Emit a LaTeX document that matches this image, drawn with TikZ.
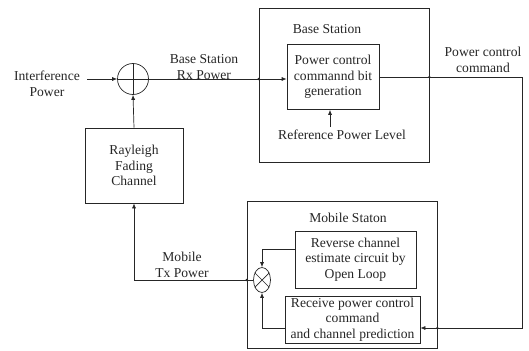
\documentclass[tikz,border=0pt]{standalone}
\usepackage{fontspec}
\setmainfont{Liberation Serif}
\usetikzlibrary{arrows.meta,shapes.geometric,calc}
\begin{document}
\begin{tikzpicture}[x=1pt,y=-1pt,
  every node/.style={font=\fontsize{13.6}{15.5}\selectfont, text=black!85},
  box/.style={draw=black!85, line width=0.7pt, rectangle, inner sep=0pt},
  lbl/.style={align=center, inner sep=0pt},
  wire/.style={draw=black!85, line width=0.7pt},
  arr/.style={wire, -{Latex[length=5pt,width=4pt]}},
  jdot/.style={circle, fill=black!85, inner sep=0pt, minimum size=2.6pt}]
\useasboundingbox (0,0) rectangle (529,350);

% Base station block
\node[box, minimum width=170pt, minimum height=154pt] (bs) at (344,85) {};
\node[lbl] (bslbl) at (327,29) {Base Station};
\node[box, lbl, minimum width=92pt, minimum height=65pt] (pcb) at (333,77)
  {Power control\\commannd bit\\generation};
\node[lbl] (ref) at (342,135) {Reference Power Level};
\coordinate (refin) at (330,127);

% Summing junction and channel
\node[draw=black!85, line width=0.7pt, circle, minimum size=31pt, inner sep=0pt] (sum) at (133,79) {};
\node[lbl] (intf) at (47,84) {Interference\\Power};
\coordinate (intin) at (87,79);
\node[lbl] (rxp) at (204,67) {Base Station\\Rx Power};
\node[box, lbl, minimum width=98pt, minimum height=75pt] (ray) at (134,165.5)
  {Rayleigh\\Fading\\Channel};

% Mobile station block
\node[box, minimum width=190pt, minimum height=147pt] (ms) at (342,274.5) {};
\node[lbl] (mslbl) at (348,218) {Mobile Staton};
\node[box, lbl, minimum width=121pt, minimum height=57pt] (rev) at (355.5,259.5)
  {Reverse channel\\estimate circuit by\\Open Loop};
\node[box, lbl, minimum width=135pt, minimum height=47pt] (rcv) at (352.5,319.5)
  {Receive power control\\command\\and channel prediction};
\node[draw=black!85, line width=0.7pt, ellipse, minimum width=17pt, minimum height=25pt, inner sep=0pt] (mult) at (262,280) {};
\node[lbl] (txp) at (182,265) {Mobile\\Tx Power};

% Feedback path labels
\node[lbl] (pcc) at (483,60) {Power control\\command};
\coordinate (cR) at (522,328);

% Summing junction cross
\draw[wire] (sum.north) -- (sum.south) (sum.west) -- (sum.east);
% Multiplier cross
\draw[wire] (mult.45) -- (mult.225) (mult.135) -- (mult.315);

% Forward path
\draw[arr] (intin) -- (sum.west);
\draw[arr] (ray.north) -- (sum.south);
\draw[arr] (sum.east) -- (sum.east -| pcb.west);
\draw[arr] (refin) -- (refin |- pcb.south);
\draw[arr] (pcb.east) -| (cR) -- (cR -| rcv.east);

% Mobile station internals
\draw[arr] ([yshift=10pt]rev.west) -| (mult.north);
\draw[arr] ([yshift=-8.5pt]rcv.west) -| (mult.south);
\draw[arr] (mult.west) -| (ray.south);

% Junction marks where wires cross the block borders
\node[jdot] at (sum.east -| bs.west) {};
\node[jdot] at (pcb.east -| bs.east) {};
\node[jdot] at (cR -| ms.east) {};
\node[jdot] at (mult.west -| ms.west) {};
\end{tikzpicture}
\end{document}
